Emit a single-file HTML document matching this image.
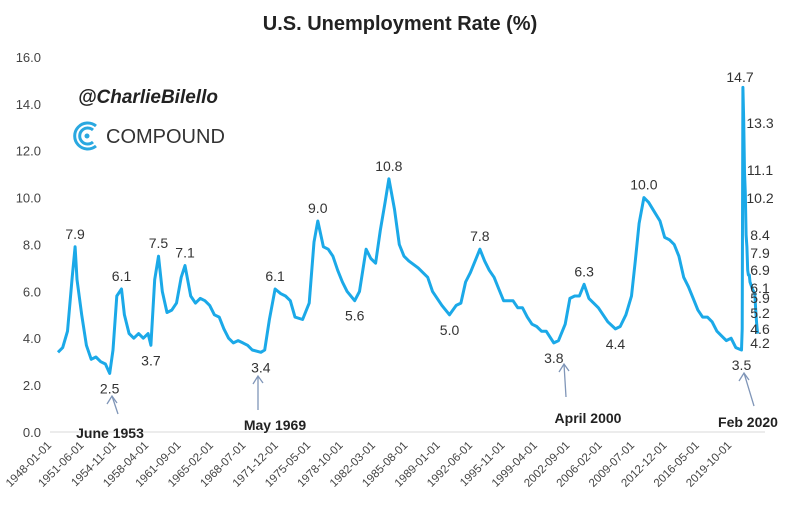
<!DOCTYPE html>
<html><head><meta charset="utf-8"><style>
body{margin:0;background:#fff;}
svg{display:block;font-family:"Liberation Sans",sans-serif;}
</style></head><body>
<svg id="chart" width="800" height="508" viewBox="0 0 800 508">
<text x="400" y="30" text-anchor="middle" font-size="20" font-weight="bold" fill="#222">U.S. Unemployment Rate (%)</text>
<text x="78" y="103" font-size="19" font-style="italic" font-weight="bold" fill="#222">@CharlieBilello</text>
<g>
<path d="M96,126 A13,13 0 1 0 96,146" fill="none" stroke="#2aa8e0" stroke-width="3"/>
<path d="M93,130 A8,8 0 1 0 93,142" fill="none" stroke="#2aa8e0" stroke-width="3"/>
<circle cx="87" cy="136" r="2.5" fill="#2aa8e0"/>
<text x="106" y="143" font-size="20" fill="#333">COMPOUND</text>
</g>
<g id="axes"></g>
<g id="series"></g>
<g id="notes"></g>
</svg>
<script>
const years=[1948.0,1948.5,1949.0,1949.5,1949.8,1950.0,1950.5,1951.0,1951.5,1952.0,1952.5,1953.0,1953.45,1953.8,1954.2,1954.7,1955.0,1955.5,1956.0,1956.5,1957.0,1957.5,1957.8,1958.2,1958.6,1959.0,1959.5,1960.0,1960.5,1961.0,1961.4,1962.0,1962.5,1963.0,1963.5,1964.0,1964.5,1965.0,1965.5,1966.0,1966.5,1967.0,1967.5,1968.0,1968.5,1969.4,1969.8,1970.3,1970.9,1971.5,1972.0,1972.5,1973.0,1973.8,1974.5,1975.0,1975.4,1976.0,1976.5,1977.0,1977.5,1978.0,1978.5,1979.3,1979.8,1980.5,1981.0,1981.5,1982.0,1982.5,1982.9,1983.5,1984.0,1984.5,1985.0,1986.0,1987.0,1987.5,1988.0,1988.5,1989.3,1990.0,1990.5,1991.0,1991.5,1992.5,1993.0,1993.5,1994.0,1994.5,1995.0,1996.0,1996.5,1997.0,1997.5,1998.0,1998.5,1999.0,1999.5,2000.3,2000.8,2001.5,2002.0,2002.5,2003.0,2003.5,2004.0,2004.5,2005.0,2005.5,2006.0,2006.8,2007.3,2007.9,2008.5,2008.9,2009.3,2009.8,2010.3,2010.9,2011.5,2012.0,2012.5,2013.0,2013.5,2014.0,2014.5,2015.0,2015.5,2016.0,2016.5,2017.0,2017.5,2018.0,2018.5,2019.0,2019.5,2020.1,2020.17,2020.25,2020.33,2020.42,2020.5,2020.58,2020.67,2020.75,2020.83,2020.92,2021.0,2021.25,2021.5,2021.6,2021.7,2021.8];
const rates=[3.4,3.6,4.3,6.6,7.9,6.5,5.0,3.7,3.1,3.2,3.0,2.9,2.5,3.5,5.8,6.1,5.0,4.2,4.0,4.2,4.0,4.2,3.7,6.5,7.5,6.0,5.1,5.2,5.5,6.6,7.1,5.8,5.5,5.7,5.6,5.4,5.0,4.9,4.4,4.0,3.8,3.9,3.8,3.7,3.5,3.4,3.5,4.8,6.1,5.9,5.8,5.6,4.9,4.8,5.5,8.1,9.0,7.9,7.8,7.5,6.9,6.4,6.0,5.6,6.0,7.8,7.4,7.2,8.6,9.8,10.8,9.5,8.0,7.5,7.3,7.0,6.6,6.0,5.7,5.4,5.0,5.4,5.5,6.4,6.8,7.8,7.3,6.9,6.6,6.1,5.6,5.6,5.3,5.3,4.9,4.6,4.5,4.3,4.3,3.8,3.9,4.6,5.7,5.8,5.8,6.3,5.7,5.5,5.3,5.0,4.7,4.4,4.5,5.0,5.8,7.3,8.9,10.0,9.8,9.4,9.0,8.3,8.2,8.0,7.5,6.6,6.2,5.7,5.2,4.9,4.9,4.7,4.3,4.1,3.9,4.0,3.6,3.5,4.4,14.7,13.3,11.1,10.2,8.4,7.9,6.9,6.7,6.7,6.4,6.1,5.9,5.2,4.6,4.2];
const yTicks=[0,2,4,6,8,10,12,14,16];
const xTickLabels=["1948-01-01","1951-06-01","1954-11-01","1958-04-01","1961-09-01","1965-02-01","1968-07-01","1971-12-01","1975-05-01","1978-10-01","1982-03-01","1985-08-01","1989-01-01","1992-06-01","1995-11-01","1999-04-01","2002-09-01","2006-02-01","2009-07-01","2012-12-01","2016-05-01","2019-10-01"];
const noteYears=[1949.8,1953.45,1954.7,1957.8,1958.6,1961.4,1969.4,1970.9,1975.4,1979.3,1982.9,1989.3,1992.5,2000.3,2003.5,2006.8,2009.8,2020.1];
const noteVals=[7.9,2.5,6.1,3.7,7.5,7.1,3.4,6.1,9.0,5.6,10.8,5.0,7.8,3.8,6.3,4.4,10.0,3.5];
const noteBelow=[0,1,0,1,0,0,1,0,0,1,0,1,0,1,0,1,0,1];
const sideVals=[14.7,13.3,11.1,10.2,8.4,7.9,6.9,6.1,5.9,5.2,4.6,4.2];

const NS="http://www.w3.org/2000/svg";
const X=y=>58+(y-1948)*9.48;
const Y=v=>432-v*23.44;
function mk(tag,attrs,parent,txt){const e=document.createElementNS(NS,tag);for(const k in attrs)e.setAttribute(k,attrs[k]);if(txt!==undefined)e.textContent=txt;parent.appendChild(e);return e;}
const axes=document.getElementById('axes'),series=document.getElementById('series'),notes=document.getElementById('notes');
const base=mk('line',{x1:50,x2:765,y1:Y(0),y2:Y(0),stroke:'#d9d9d9','stroke-width':1},axes);


yTicks.forEach(v=>{
  const t=mk('text',{x:41,y:Y(v)+5,'text-anchor':'end','font-size':13,fill:'#444'},axes,v.toFixed(1));
  
  
});
xTickLabels.forEach((s,i)=>{
  const yr=1948+i*41/12;
  const x=X(yr)-6,y=446;
  const t=mk('text',{x:x,y:y,'text-anchor':'end','font-size':11.5,fill:'#444',transform:`rotate(-45 ${x} ${y})`},axes,s);
  
  
});
const d=years.map((y,i)=>(i?'L':'M')+X(y).toFixed(1)+','+Y(rates[i]).toFixed(1)).join('');
const line=mk('path',{d:d,fill:'none',stroke:'#1ba9e8','stroke-width':3,'stroke-linejoin':'round'},series);


noteYears.forEach((yr,i)=>{
  const below=noteBelow[i];
  const t=mk('text',{x:X(yr),y:Y(noteVals[i])+(below?20:-8),'text-anchor':'middle','font-size':14,fill:'#333'},notes,noteVals[i].toFixed(1));
  
  
});
const sy=[80,128,175,203,240,258,275,293,303,318,334,348];
sideVals.forEach((v,i)=>{
  const t=mk('text',{x:i==0?740:760,y:i==0?82:sy[i]+0,'text-anchor':i==0?'middle':'middle','font-size':14,fill:'#333'},notes,v.toFixed(1));
  
  
});
const events=[["June 1953",1953.45,110,433,[118,414,112,396]],["May 1969",1969.4,275,425,[258,410,258,376]],["April 2000",2000.3,588,418,[566,397,564,364]],["Feb 2020",2020.1,748,422,[754,406,744,373]]];
events.forEach(e=>{
  const t=mk('text',{x:e[2],y:e[3]+5,'text-anchor':'middle','font-size':14,'font-weight':'bold',fill:'#222'},notes,e[0]);
  
  
  const a=e[4];
  const ar=mk('path',{d:`M${a[0]},${a[1]}L${a[2]},${a[3]}M${a[2]-5},${a[3]+8}L${a[2]},${a[3]}L${a[2]+5},${a[3]+7}`,fill:'none',stroke:'#8096b8','stroke-width':1.3},notes);
  
  
});
</script>
</body></html>
